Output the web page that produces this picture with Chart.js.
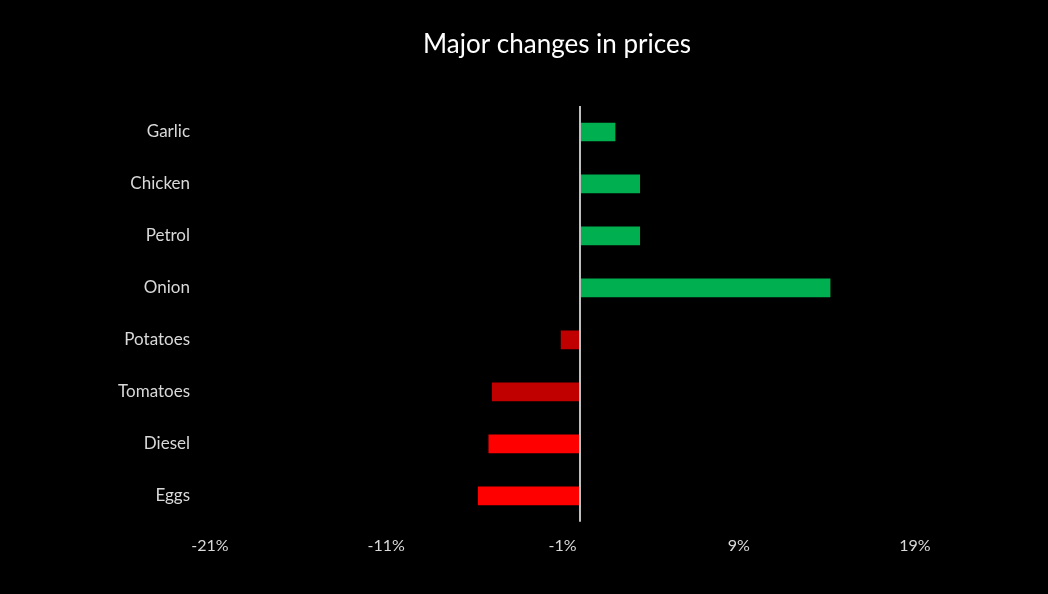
<!DOCTYPE html>
<html>
<head>
<meta charset="utf-8">
<script src="https://cdn.jsdelivr.net/npm/chart.js@4"></script>
<style>
  html, body { margin: 0; padding: 0; background: #000; }
  #wrap { width: 1048px; height: 594px; }
</style>
</head>
<body>
<div id="wrap"><canvas id="pricesChart"></canvas></div>
<script>
const items = ['Garlic', 'Chicken', 'Petrol', 'Onion', 'Potatoes', 'Tomatoes', 'Diesel', 'Eggs'];
const changes = [2.0, 3.4, 3.4, 14.2, -1.1, -5.0, -5.2, -5.8];
const barColors = ['#00B050', '#00B050', '#00B050', '#00B050', '#C00000', '#C00000', '#FF0000', '#FF0000'];
const axisMin = -21;
const axisMax = 19;
const axisStep = 10;
const chartTitle = 'Major changes in prices';

// vertical line at 0% (not one of the ticks, so drawn by hand)
const zeroLine = {
  id: 'zeroLine',
  afterDatasetsDraw(chart) {
    const { ctx, chartArea, scales } = chart;
    const x = Math.round(scales.x.getPixelForValue(0));
    ctx.save();
    ctx.strokeStyle = '#bfbfbf';
    ctx.lineWidth = 2;
    ctx.beginPath();
    ctx.moveTo(x, chartArea.top);
    ctx.lineTo(x, chartArea.bottom);
    ctx.stroke();
    ctx.restore();
  }
};

// title sits a bit right of the canvas centre, like the original
const titleText = {
  id: 'titleText',
  afterDraw(chart) {
    const { ctx } = chart;
    ctx.save();
    ctx.fillStyle = '#ffffff';
    ctx.font = '26px Lato';
    ctx.textAlign = 'center';
    ctx.textBaseline = 'middle';
    ctx.fillText(chartTitle, 557, 45);
    ctx.restore();
  }
};

const ctx = document.getElementById('pricesChart').getContext('2d');
const pricesChart = new Chart(ctx, {
  type: 'bar',
  data: {
    labels: items,
    datasets: [
      {
        label: 'Change',
        data: changes,
        backgroundColor: barColors,
        borderWidth: 0,
        categoryPercentage: 1.0,
        barPercentage: 0.36
      }
    ]
  },
  options: {
    indexAxis: 'y',
    responsive: true,
    maintainAspectRatio: false,
    animation: false,
    layout: {
      padding: { left: 0, right: 133, top: 106, bottom: 25 }
    },
    scales: {
      x: {
        min: axisMin,
        max: axisMax,
        afterBuildTicks: (axis) => {
          const t = [];
          for (let v = axisMin; v <= axisMax; v += axisStep) t.push({ value: v });
          axis.ticks = t;
        },
        ticks: {
          color: '#d9d9d9',
          font: { family: 'Lato', size: 16 },
          padding: 14,
          callback: (v) => v + '%'
        },
        grid: { display: false, drawTicks: false },
        border: { display: false }
      },
      y: {
        afterFit: (axis) => { axis.width = 210; },
        ticks: {
          color: '#d9d9d9',
          font: { family: 'Lato', size: 17 },
          padding: 12
        },
        grid: { display: false },
        border: { display: false }
      }
    },
    plugins: {
      legend: { display: false },
      tooltip: { enabled: false },
      title: { display: false }
    }
  },
  plugins: [zeroLine, titleText]
});
</script>
</body>
</html>
